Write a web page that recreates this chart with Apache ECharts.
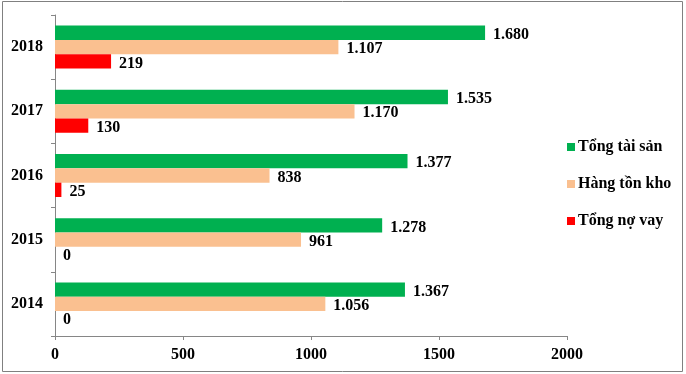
<!DOCTYPE html>
<html>
<head>
<meta charset="utf-8">
<script src="https://cdn.jsdelivr.net/npm/echarts@6/dist/echarts.min.js"></script>
<style>html,body{margin:0;padding:0;background:#fff;}#c{width:686px;height:374px;}</style>
</head>
<body>
<div id="c"></div>
<script>
var years = ['2014', '2015', '2016', '2017', '2018'];
var tongTaiSan = [1367, 1278, 1377, 1535, 1680];
var hangTonKho = [1056, 961, 838, 1170, 1107];
var tongNoVay = [0, 0, 25, 130, 219];
var seriesNames = ['Tổng tài sản', 'Hàng tồn kho', 'Tổng nợ vay'];
var colors = ['#00B050', '#FAC090', '#FF0000'];

var FONT = '"Liberation Serif", "Times New Roman", serif';
function fmt(v) {
  return String(v).replace(/\B(?=(\d{3})+(?!\d))/g, '.');
}
var chart = echarts.init(document.getElementById('c'));
function mk(name, data, color) {
  return {
    name: name, type: 'bar', data: data,
    barGap: '0%', barCategoryGap: '33%',
    itemStyle: { color: color },
    label: {
      show: true, position: 'right', distance: 8, offset: [0, 2],
      color: '#000', fontFamily: FONT, fontWeight: 'bold', fontSize: 16,
      formatter: function (p) { return fmt(p.value); }
    }
  };
}
chart.setOption({
  animation: false,
  graphic: [{
    type: 'rect', shape: { x: 2.5, y: 1.5, width: 680, height: 370 },
    style: { fill: 'none', stroke: '#808080', lineWidth: 1 }, silent: true
  }],
  legend: {
    orient: 'vertical', left: 567, top: 139, padding: 0,
    itemWidth: 8, itemHeight: 8, itemGap: 21,
    icon: 'rect',
    textStyle: { fontFamily: FONT, fontWeight: 'bold', fontSize: 16, color: '#000', padding: [0, 0, 0, -2] },
    data: seriesNames
  },
  grid: { left: 55, top: 15, width: 512, height: 321, containLabel: false },
  xAxis: {
    type: 'value', min: 0, max: 2000, interval: 500,
    axisLine: { show: true, lineStyle: { color: '#868686' } },
    axisTick: { show: true, length: 4, lineStyle: { color: '#868686' } },
    splitLine: { show: false },
    axisLabel: { color: '#000', fontFamily: FONT, fontWeight: 'bold', fontSize: 16, margin: 11,
      formatter: function (v) { return String(v); } }
  },
  yAxis: {
    type: 'category', data: years,
    axisLine: { show: true, lineStyle: { color: '#868686' } },
    axisTick: { show: true, length: 4, lineStyle: { color: '#868686' } },
    axisLabel: { color: '#000', fontFamily: FONT, fontWeight: 'bold', fontSize: 16, margin: 12,
      padding: [6, 0, 0, 0] }
  },
  series: [
    mk(seriesNames[0], tongTaiSan, colors[0]),
    mk(seriesNames[1], hangTonKho, colors[1]),
    mk(seriesNames[2], tongNoVay, colors[2])
  ]
});
</script>
</body>
</html>
